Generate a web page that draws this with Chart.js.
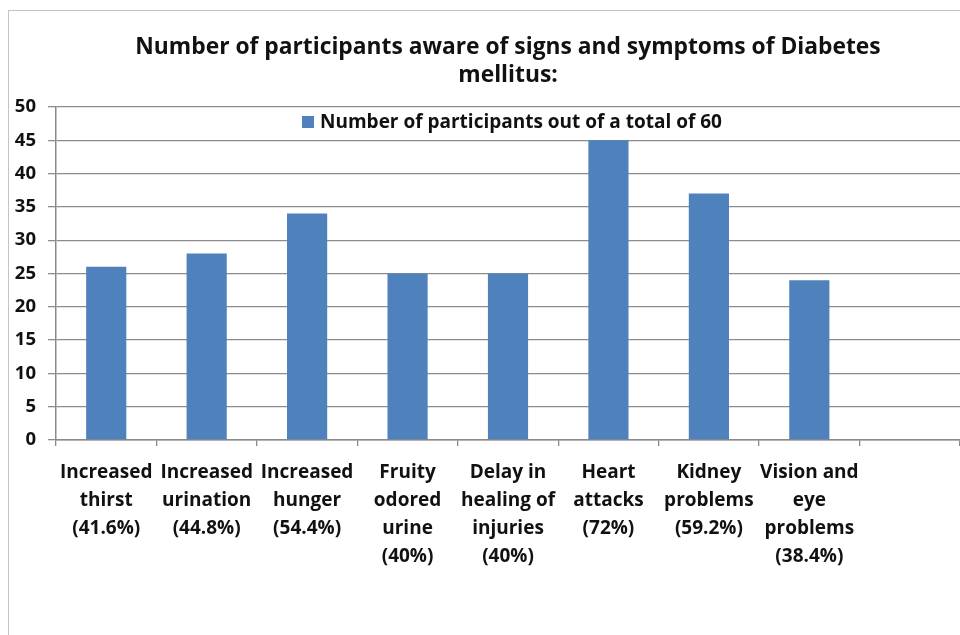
<!DOCTYPE html>
<html>
<head>
<meta charset="utf-8">
<script src="https://cdn.jsdelivr.net/npm/chart.js@4"></script>
<style>
  html, body { margin: 0; padding: 0; background: #fff; }
  #wrap { position: relative; width: 960px; height: 635px; overflow: hidden; }
  #frame { position: absolute; left: 8px; top: 10px; width: 1000px; height: 700px;
           border-left: 1px solid #c4c4c4; border-top: 1px solid #c4c4c4; pointer-events: none; }
  canvas { position: absolute; left: 0; top: 0; }
</style>
</head>
<body>
<div id="wrap">
  <canvas id="c" width="960" height="635"></canvas>
  <div id="frame"></div>
</div>
<script>
const titleLines = ["Number of participants aware of signs and symptoms of Diabetes", "mellitus:"];
const seriesName = "Number of participants out of a total of 60";
const categories = [
  ["Increased", "thirst", "(41.6%)"],
  ["Increased", "urination", "(44.8%)"],
  ["Increased", "hunger", "(54.4%)"],
  ["Fruity", "odored", "urine", "(40%)"],
  ["Delay in", "healing of", "injuries", "(40%)"],
  ["Heart", "attacks", "(72%)"],
  ["Kidney", "problems", "(59.2%)"],
  ["Vision and", "eye", "problems", "(38.4%)"],
  ""
];
const participants = [26, 28, 34, 25, 25, 45, 37, 24, null];
const yTicks = [0, 5, 10, 15, 20, 25, 30, 35, 40, 45, 50];

const FONT = "'Open Sans', Lato, sans-serif";

// Legend drawn inside the plot area, near its top, centred (as in the original)
const insideLegend = {
  id: 'insideLegend',
  afterDraw(chart) {
    const ctx = chart.ctx;
    const area = chart.chartArea;
    const ds = chart.data.datasets[0];
    ctx.save();
    ctx.font = "bold 19px " + FONT;
    const tw = ctx.measureText(ds.label).width;
    const box = 12, gap = 6;
    const total = box + gap + tw;
    const cx = (area.left + area.right) / 2 + 4;
    const x0 = cx - total / 2;
    const yMid = area.top + 15;
    ctx.fillStyle = ds.backgroundColor;
    ctx.fillRect(x0, yMid - box / 2, box, box);
    ctx.fillStyle = '#111';
    ctx.textBaseline = 'middle';
    ctx.textAlign = 'left';
    ctx.fillText(ds.label, x0 + box + gap, yMid + 1);
    ctx.restore();
  }
};

new Chart(document.getElementById('c'), {
  type: 'bar',
  data: {
    labels: categories,
    datasets: [{
      label: seriesName,
      data: participants,
      backgroundColor: '#4F81BD',
      borderWidth: 0,
      barPercentage: 0.8,
      categoryPercentage: 0.5
    }]
  },
  plugins: [insideLegend],
  options: {
    responsive: false,
    animation: false,
    layout: { padding: { left: 0, right: 0, top: 0, bottom: 0 } },
    plugins: {
      title: {
        display: true,
        text: titleLines,
        fullSize: false,
        color: '#111',
        font: { family: FONT, size: 22.8, weight: 'bold', lineHeight: 28 / 22.8 },
        padding: { top: 34, bottom: 17 }
      },
      legend: { display: false },
      tooltip: { enabled: false }
    },
    scales: {
      x: {
        offset: true,
        grid: {
          offset: true,
          drawOnChartArea: false,
          drawTicks: true,
          tickLength: 6,
          color: '#8a8a8a',
          lineWidth: 1.3
        },
        border: { display: true, color: '#8a8a8a', width: 1.5 },
        ticks: {
          color: '#111',
          autoSkip: false,
          maxRotation: 0,
          minRotation: 0,
          padding: 13,
          font: { family: FONT, size: 19, weight: 'bold', lineHeight: 28 / 19 }
        },
        afterFit(scale) { scale.height = 195; }
      },
      y: {
        min: 0,
        max: 50,
        afterBuildTicks(scale) { scale.ticks = yTicks.map(v => ({ value: v })); },
        grid: {
          color: '#8c8c8c',
          lineWidth: 1.3,
          drawTicks: true,
          tickLength: 8
        },
        border: { display: true, color: '#8a8a8a', width: 1.5 },
        ticks: {
          color: '#111',
          padding: 12,
          font: { family: FONT, size: 18.5, weight: 'bold' }
        },
        afterFit(scale) { scale.width = 56; }
      }
    }
  }
});
</script>
</body>
</html>
